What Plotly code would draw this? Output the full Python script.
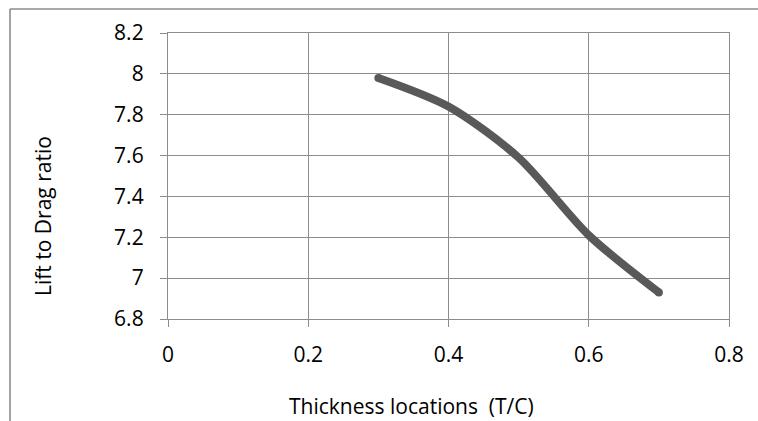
import plotly.graph_objects as go

# Lift-to-drag ratio versus maximum-thickness location
thickness_loc = [0.3, 0.4, 0.5, 0.6, 0.7]
lift_drag = [7.98, 7.84, 7.59, 7.21, 6.93]

x_ticks = [0, 0.2, 0.4, 0.6, 0.8]
y_ticks = [6.8, 7.0, 7.2, 7.4, 7.6, 7.8, 8.0, 8.2]

line_col = "#595959"
grid_col = "#8c8c8c"
font_fam = "'Open Sans', Lato, sans-serif"

# plot-area geometry in pixels
L, R, T, B = 168, 729, 33, 319
W, H = 758, 421
pw, ph = R - L, B - T


def px_x(p):
    return (p - L) / pw


def px_y(p):
    return (B - p) / ph


fig = go.Figure()
fig.add_trace(go.Scatter(
    x=thickness_loc, y=lift_drag, mode="lines",
    line=dict(color=line_col, width=8, shape="spline", smoothing=0.8),
    hoverinfo="skip", showlegend=False,
))
# rounded ends of the curve
fig.add_trace(go.Scatter(
    x=[thickness_loc[0], thickness_loc[-1]], y=[lift_drag[0], lift_drag[-1]],
    mode="markers", marker=dict(color=line_col, size=8),
    hoverinfo="skip", showlegend=False,
))

axis_common = dict(
    showgrid=True, gridcolor=grid_col, gridwidth=1.3,
    showline=True, linecolor=grid_col, linewidth=1.3, mirror=True,
    ticks="outside", ticklen=7, tickcolor=grid_col, tickwidth=1.3,
    zeroline=False, tickfont=dict(family=font_fam, size=21, color="#000"),
)

fig.update_xaxes(
    range=[0, 0.8], tickvals=x_ticks, ticktext=[f"{v:g}" for v in x_ticks],
    ticklabelstandoff=10, **axis_common,
)
fig.update_yaxes(
    range=[6.8, 8.2], tickvals=y_ticks, ticktext=[f"{v:g}" for v in y_ticks],
    ticklabelstandoff=12, **axis_common,
)

title_font = dict(family=font_fam, size=21, color="#000")
fig.add_annotation(text="Thickness locations  (T/C)", xref="paper", yref="paper",
                   x=px_x(411), y=px_y(406), xanchor="center", yanchor="middle",
                   showarrow=False, font=title_font)
fig.add_annotation(text="Lift to Drag ratio", xref="paper", yref="paper",
                   x=px_x(43), y=px_y(298), xanchor="center", yanchor="bottom",
                   textangle=-90, showarrow=False, font=title_font)

# chart-area frame (top and left edges)
frame = dict(color=grid_col, width=1.6)
fig.add_shape(type="line", xref="paper", yref="paper",
              x0=px_x(10), x1=px_x(W + 5), y0=px_y(9), y1=px_y(9), line=frame)
fig.add_shape(type="line", xref="paper", yref="paper",
              x0=px_x(10), x1=px_x(10), y0=px_y(9), y1=px_y(H + 5), line=frame)

fig.update_layout(
    width=W, height=H,
    margin=dict(l=L, r=W - R, t=T, b=H - B),
    paper_bgcolor="white", plot_bgcolor="white",
)

fig.write_html("out.html", config={"displayModeBar": False})
